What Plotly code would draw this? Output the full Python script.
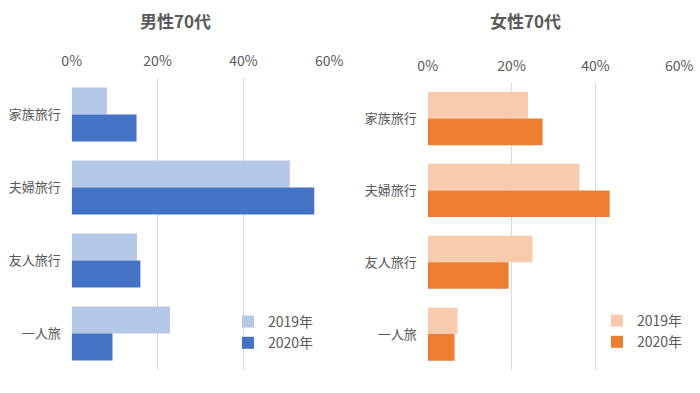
import plotly.graph_objects as go

categories = ["家族旅行", "夫婦旅行", "友人旅行", "一人旅"]
male_2019 = [8.2, 50.8, 15.2, 22.9]
male_2020 = [15.1, 56.5, 16.0, 9.5]
female_2019 = [23.9, 36.2, 25.0, 7.1]
female_2020 = [27.4, 43.4, 19.3, 6.4]
series_names = ["2019年", "2020年"]
tick_vals = [0, 20, 40, 60]
tick_text = ["0%", "20%", "40%", "60%"]

FONT = "Noto Sans CJK JP"
TXT = "#595959"
GRID = "#D9D9D9"

fig = go.Figure()
fig.add_trace(go.Bar(y=categories, x=male_2019, name=series_names[0], orientation="h",
                     marker=dict(color="#B4C7E7", line=dict(width=0)),
                     xaxis="x", yaxis="y", legend="legend"))
fig.add_trace(go.Bar(y=categories, x=male_2020, name=series_names[1], orientation="h",
                     marker=dict(color="#4472C4", line=dict(width=0)),
                     xaxis="x", yaxis="y", legend="legend"))
fig.add_trace(go.Bar(y=categories, x=female_2019, name=series_names[0], orientation="h",
                     marker=dict(color="#F8CBAD", line=dict(width=0)),
                     xaxis="x2", yaxis="y2", legend="legend2"))
fig.add_trace(go.Bar(y=categories, x=female_2020, name=series_names[1], orientation="h",
                     marker=dict(color="#ED7D31", line=dict(width=0)),
                     xaxis="x2", yaxis="y2", legend="legend2"))

W, H = 700, 393
def px(x): return x / W
def py(y): return (H - y) / H

xcommon = dict(range=[0, 60], tickvals=tick_vals, ticktext=tick_text, side="top",
               showgrid=True, gridcolor=GRID, gridwidth=1, zeroline=False,
               showline=False, ticks="", tickfont=dict(family=FONT, size=14, color=TXT),
               ticklabelstandoff=8, fixedrange=True, automargin=False)
ycommon = dict(type="category", autorange="reversed", showgrid=False, zeroline=False,
               showline=False, ticks="", tickfont=dict(family=FONT, size=13, color=TXT),
               ticklabelstandoff=10, fixedrange=True, automargin=False)

fig.update_layout(
    width=W, height=H, margin=dict(l=0, r=0, t=0, b=0, autoexpand=False),
    paper_bgcolor="white", plot_bgcolor="white",
    barmode="group", bargap=0.26, bargroupgap=0,
    showlegend=True,
    xaxis=dict(domain=[px(71.7), px(329.3)], anchor="y", **xcommon),
    yaxis=dict(domain=[py(370), py(78)], anchor="x", **ycommon),
    xaxis2=dict(domain=[px(427.7), px(679.3)], anchor="y2", **xcommon),
    yaxis2=dict(domain=[py(370), py(82.7)], anchor="x2", **ycommon),
    legend=dict(x=px(228), y=py(306), xanchor="left", yanchor="top",
                font=dict(family=FONT, size=14, color=TXT), bgcolor="rgba(0,0,0,0)",
                itemwidth=30, tracegroupgap=0),
    legend2=dict(x=px(597), y=py(305), xanchor="left", yanchor="top",
                 font=dict(family=FONT, size=14, color=TXT), bgcolor="rgba(0,0,0,0)",
                 itemwidth=30, tracegroupgap=0),
    annotations=[
        dict(text="<b>男性70代</b>", x=px(175), y=py(20), xref="paper", yref="paper",
             xanchor="center", yanchor="middle",
             showarrow=False, font=dict(family=FONT, size=17, color=TXT)),
        dict(text="<b>女性70代</b>", x=px(525), y=py(20), xref="paper", yref="paper",
             xanchor="center", yanchor="middle",
             showarrow=False, font=dict(family=FONT, size=17, color=TXT)),
    ],
)

fig.write_html("out.html", config={"displayModeBar": False},
               post_script="document.body.style.margin='0';")
